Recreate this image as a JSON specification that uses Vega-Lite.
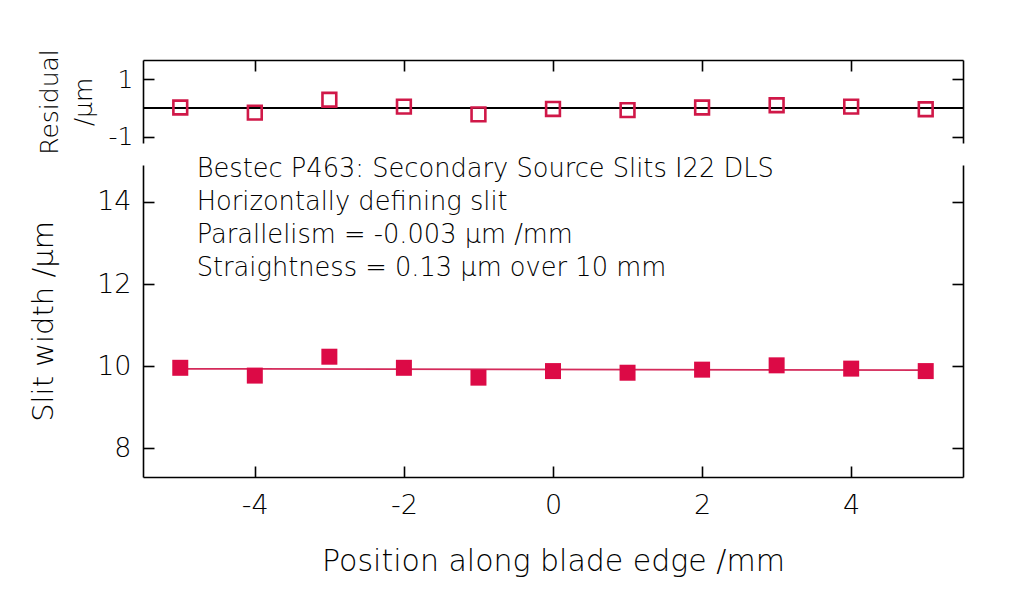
{
  "$schema": "https://vega.github.io/schema/vega-lite/v6.json",
  "autosize": {"type": "pad"},
  "padding": {"left": 29, "top": 48, "right": 5, "bottom": 5},
  "background": "white",
  "config": {
    "view": {"stroke": null},
    "font": "DejaVu Sans",
    "axis": {
      "grid": false,
      "domainColor": "#000000",
      "domainWidth": 1.6,
      "tickColor": "#000000",
      "tickWidth": 1.6,
      "tickSize": -11,
      "labelFont": "DejaVu Sans",
      "labelFontSize": 27,
      "labelFontWeight": 300,
      "labelColor": "#000000",
      "labelPadding": 23,
      "labelExpr": "datum.value",
      "titleFont": "DejaVu Sans",
      "titleFontSize": 29,
      "titleFontWeight": 300,
      "titleColor": "#000000"
    }
  },
  "datasets": {
    "pts": [
      {"x": -5, "width": 9.96, "resid": 0.02},
      {"x": -4, "width": 9.77, "resid": -0.16},
      {"x": -3, "width": 10.23, "resid": 0.29},
      {"x": -2, "width": 9.96, "resid": 0.05},
      {"x": -1, "width": 9.72, "resid": -0.22},
      {"x": 0, "width": 9.88, "resid": -0.03},
      {"x": 1, "width": 9.84, "resid": -0.07},
      {"x": 2, "width": 9.915, "resid": 0.02},
      {"x": 3, "width": 10.02, "resid": 0.10},
      {"x": 4, "width": 9.94, "resid": 0.05},
      {"x": 5, "width": 9.88, "resid": -0.04}
    ],
    "fit": [
      {"x": -5, "fit": 9.935},
      {"x": 5, "fit": 9.905}
    ],
    "notes": [
      {"note": ["Bestec P463: Secondary Source Slits I22 DLS", "Horizontally defining slit", "Parallelism = -0.003 µm /mm", "Straightness = 0.13 µm over 10 mm"]}
    ]
  },
  "bounds": "flush",
  "spacing": 22,
  "vconcat": [
    {
      "width": 820,
      "height": 83,
      "data": {"name": "pts"},
      "resolve": {"axis": {"y": "independent"}},
      "layer": [
        {
          "mark": {"type": "rule", "color": "#000000", "strokeWidth": 1.6},
          "encoding": {
            "y": {"datum": 0, "type": "quantitative",
              "scale": {"domain": [-1.22, 1.68], "nice": false, "zero": false},
              "axis": {"orient": "right", "labels": false, "values": [-1, 1], "title": null}}
          }
        },
        {
          "mark": {"type": "point", "shape": "square", "filled": false, "color": "#d01848", "strokeWidth": 2.6, "size": 190, "opacity": 1},
          "encoding": {
            "x": {"field": "x", "type": "quantitative",
              "scale": {"domain": [-5.5, 5.5], "nice": false, "zero": false},
              "axis": {"orient": "top", "labels": false, "values": [-4, -2, 0, 2, 4], "title": null}},
            "y": {"field": "resid", "type": "quantitative",
              "scale": {"domain": [-1.22, 1.68], "nice": false, "zero": false},
              "axis": {"orient": "left", "values": [-1, 1], "labelFontSize": 25, "labelPadding": 21,
                "title": ["Residual", "/µm"], "titleFontSize": 25, "titleLineHeight": 34, "titlePadding": 12}}
          }
        }
      ]
    },
    {
      "width": 820,
      "height": 312,
      "resolve": {"axis": {"y": "independent"}},
      "layer": [
        {
          "data": {"name": "fit"},
          "mark": {"type": "line", "color": "#d42a5a", "strokeWidth": 1.8},
          "encoding": {
            "x": {"field": "x", "type": "quantitative",
              "scale": {"domain": [-5.5, 5.5], "nice": false, "zero": false},
              "axis": {"orient": "bottom", "values": [-4, -2, 0, 2, 4], "title": "Position along blade edge /mm", "titlePadding": 28, "labelPadding": 26, "titleFontSize": 30}},
            "y": {"field": "fit", "type": "quantitative",
              "scale": {"domain": [7.3, 14.9], "nice": false, "zero": false},
              "axis": {"orient": "right", "labels": false, "values": [8, 10, 12, 14], "title": null}}
          }
        },
        {
          "data": {"name": "pts"},
          "mark": {"type": "square", "color": "#dc0a46", "size": 256, "opacity": 1},
          "encoding": {
            "x": {"field": "x", "type": "quantitative",
              "scale": {"domain": [-5.5, 5.5], "nice": false, "zero": false},
              "axis": {"orient": "bottom", "values": [-4, -2, 0, 2, 4], "title": "Position along blade edge /mm", "titlePadding": 28, "labelPadding": 26, "titleFontSize": 30}},
            "y": {"field": "width", "type": "quantitative",
              "scale": {"domain": [7.3, 14.9], "nice": false, "zero": false},
              "axis": {"orient": "left", "values": [8, 10, 12, 14], "title": "Slit width /µm", "titlePadding": 38}}
          }
        },
        {
          "data": {"name": "notes"},
          "mark": {"type": "text", "align": "left", "baseline": "alphabetic", "fontSize": 25.7, "fontWeight": 300, "lineHeight": 33, "color": "#000000"},
          "encoding": {
            "text": {"field": "note"},
            "x": {"datum": -4.78, "type": "quantitative"},
            "y": {"datum": 14.6, "type": "quantitative", "axis": null}
          }
        }
      ]
    }
  ]
}
